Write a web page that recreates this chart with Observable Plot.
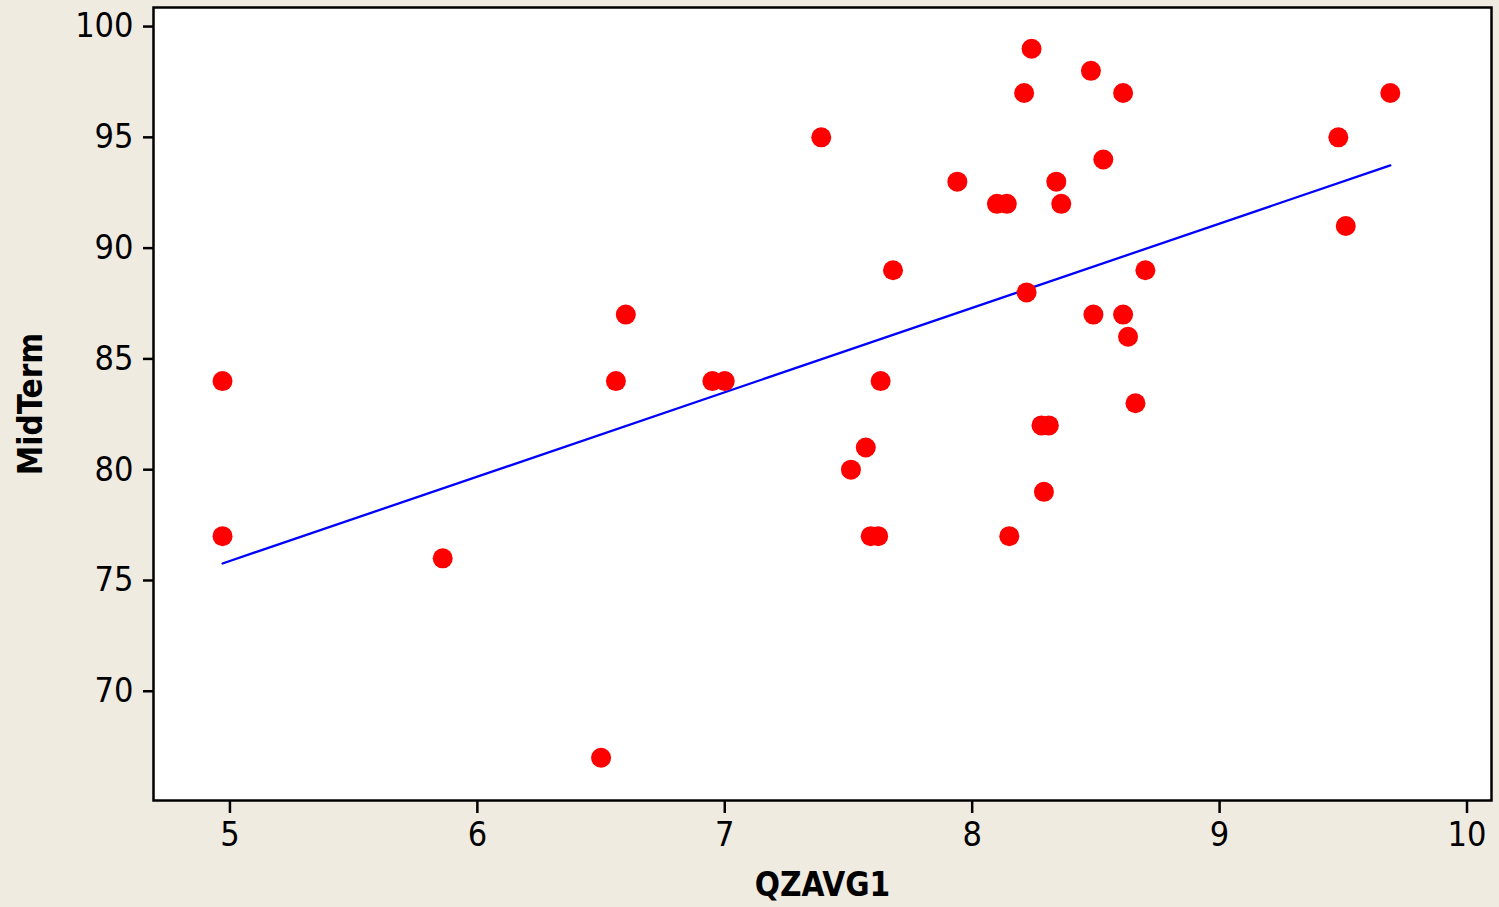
<!DOCTYPE html>
<html>
<head>
<meta charset="utf-8">
<script src="https://cdn.jsdelivr.net/npm/d3@7"></script>
<script src="https://cdn.jsdelivr.net/npm/@observablehq/plot@0.6"></script>
<style>
  html, body { margin: 0; padding: 0; background: #efebe1; }
  #chart svg { display: block; }
  #chart g[aria-label="x-axis tick label"] text,
  #chart g[aria-label="y-axis tick label"] text { font-size: 34px; }
  #chart g[aria-label="x-axis label"] text,
  #chart g[aria-label="y-axis label"] text { font-size: 33px; font-weight: bold; }
</style>
</head>
<body>
<div id="chart"></div>
<script>
// QZAVG1 (quiz average) values
const qzavg1 = [4.97, 4.97, 5.86, 6.50, 6.56, 6.60, 6.95, 7.00, 7.39, 7.51, 7.57, 7.59, 7.62, 7.63, 7.68, 7.94,
  8.10, 8.14, 8.15, 8.21, 8.22, 8.24, 8.28, 8.31, 8.29, 8.34, 8.36, 8.48, 8.49, 8.53, 8.61, 8.61, 8.63, 8.66, 8.70,
  9.48, 9.51, 9.69];
// MidTerm scores
const midterm = [84, 77, 76, 67, 84, 87, 84, 84, 95, 80, 81, 77, 77, 84, 89, 93,
  92, 92, 77, 97, 88, 99, 82, 82, 79, 93, 92, 98, 87, 94, 97, 87, 86, 83, 89,
  95, 91, 97];
const xTicks = [5, 6, 7, 8, 9, 10];
const yTicks = [70, 75, 80, 85, 90, 95, 100];

const data = qzavg1.map((x, i) => ({QZAVG1: x, MidTerm: midterm[i]}));

const chart = Plot.plot({
  width: 1499,
  height: 907,
  marginLeft: 153,
  marginRight: 8,
  marginTop: 7,
  marginBottom: 107,
  style: {background: "#efebe1", fontFamily: "'DejaVu Sans Condensed', 'DejaVu Sans', sans-serif", color: "black"},
  x: {domain: [4.691, 10.099]},
  y: {domain: [65.07, 100.86]},
  marks: [
    Plot.frame({fill: "white", stroke: null}),
    Plot.axisX({ticks: xTicks, tickSize: 13, tickPadding: 8, strokeWidth: 2.5, tickFormat: d => String(d),
      label: "QZAVG1", labelArrow: "none", labelAnchor: "center", labelOffset: 95}),
    Plot.axisY({ticks: yTicks, tickSize: 10, tickPadding: 10, strokeWidth: 2.5, tickFormat: d => String(d),
      label: "MidTerm", labelArrow: "none", labelAnchor: "center", labelOffset: 135}),
    Plot.linearRegressionY(data, {x: "QZAVG1", y: "MidTerm", stroke: "#0000ff", strokeWidth: 2.3, ci: 0}),
    Plot.dot(data, {x: "QZAVG1", y: "MidTerm", r: 10, fill: "#ff0000", stroke: null}),
    Plot.frame({stroke: "black", strokeWidth: 2.5})
  ]
});
document.getElementById("chart").appendChild(chart);
</script>
</body>
</html>
